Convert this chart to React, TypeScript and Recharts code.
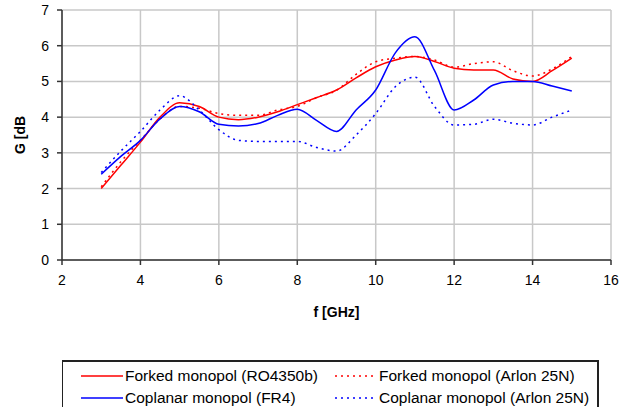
import React from "react";
import { CartesianGrid, Line, LineChart, XAxis, YAxis } from "recharts";

// frequency points [GHz]
const freq = [3, 3.5, 4, 4.5, 5, 5.5, 6, 6.5, 7, 7.5, 8, 8.5, 9, 9.5, 10, 10.5, 11, 11.5, 12, 12.5, 13, 13.5, 14, 14.5, 15];

// gain [dB]
const forkedRO = [2.0, 2.65, 3.3, 4.0, 4.4, 4.3, 4.0, 3.93, 4.0, 4.15, 4.35, 4.55, 4.76, 5.1, 5.41, 5.6, 5.7, 5.56, 5.37, 5.32, 5.32, 5.07, 5.0, 5.3, 5.65];
const forkedArlon = [2.05, 2.75, 3.35, 3.95, 4.3, 4.25, 4.1, 4.05, 4.05, 4.2, 4.3, 4.55, 4.75, 5.2, 5.55, 5.65, 5.7, 5.6, 5.4, 5.5, 5.55, 5.3, 5.15, 5.35, 5.7];
const coplanarFR4 = [2.4, 2.9, 3.35, 3.95, 4.3, 4.15, 3.8, 3.75, 3.82, 4.05, 4.22, 3.9, 3.6, 4.2, 4.76, 5.8, 6.25, 5.3, 4.2, 4.48, 4.9, 5.0, 5.0, 4.87, 4.73];
const coplanarArlon = [2.45, 3.05, 3.6, 4.2, 4.6, 4.2, 3.65, 3.35, 3.32, 3.32, 3.32, 3.15, 3.05, 3.5, 4.1, 4.85, 5.12, 4.3, 3.78, 3.8, 3.94, 3.83, 3.78, 4.0, 4.2];

const xTicks = [2, 4, 6, 8, 10, 12, 14, 16];
const yTicks = [0, 1, 2, 3, 4, 5, 6, 7];

const data = freq.map((f, i) => ({
  f,
  forkedRO: forkedRO[i],
  forkedArlon: forkedArlon[i],
  coplanarFR4: coplanarFR4[i],
  coplanarArlon: coplanarArlon[i],
}));

const series = [
  { key: "forkedRO", name: "Forked monopol (RO4350b)", color: "#ff0000", dash: undefined },
  { key: "forkedArlon", name: "Forked monopol (Arlon 25N)", color: "#ff0000", dash: "2 4" },
  { key: "coplanarFR4", name: "Coplanar monopol (FR4)", color: "#0000ff", dash: undefined },
  { key: "coplanarArlon", name: "Coplanar monopol (Arlon 25N)", color: "#0000ff", dash: "2 4" },
];

const font = "'Liberation Sans', Arial, sans-serif";

const YLabel = ({ viewBox }: any) => {
  const cy = viewBox.y + viewBox.height / 2;
  return (
    <text
      x={20}
      y={cy}
      transform={`rotate(-90 20 ${cy})`}
      textAnchor="middle"
      dominantBaseline="central"
      fill="#000"
      fontSize={14}
      fontWeight="bold"
      fontFamily={font}
    >
      G [dB
    </text>
  );
};

// legend drawn as a plain box below the chart, like the Excel one
const LegendBox = () => (
  <div
    style={{
      position: "absolute",
      left: 62,
      top: 360,
      width: 537,
      height: 60,
      borderTop: "2px solid #222",
      borderLeft: "1px solid #222",
      borderRight: "2px solid #222",
      background: "#fff",
      fontFamily: font,
      fontSize: 15.5,
      color: "#000",
      display: "grid",
      gridTemplateColumns: "254px 280px",
      gridAutoRows: "22px",
      paddingTop: 3,
      boxSizing: "border-box",
    }}
  >
    {series.map((s) => (
      <div key={s.key} style={{ display: "flex", alignItems: "center", whiteSpace: "nowrap" }}>
        <svg width={62} height={10} style={{ flex: "none" }}>
          <line x1={18} x2={60} y1={5} y2={5} stroke={s.color} strokeWidth={1.5} strokeDasharray={s.dash} />
        </svg>
        <span>{s.name}</span>
      </div>
    ))}
  </div>
);

export default function App() {
  return (
    <div style={{ position: "absolute", left: 0, top: 0, width: 626, height: 407, background: "#fff", overflow: "hidden" }}>
      <LineChart width={626} height={407} data={data} margin={{ top: 10, right: 15, bottom: 117, left: 0 }}>
        <CartesianGrid stroke="#c8c8c8" strokeWidth={1.5} />
        <XAxis
          dataKey="f"
          type="number"
          domain={[2, 16]}
          ticks={xTicks}
          height={30}
          stroke="#333"
          strokeWidth={1.5}
          tickSize={5}
          tickMargin={10}
          tick={{ fill: "#000", fontSize: 14, fontFamily: font }}
          label={{ value: "f [GHz]", position: "insideTop", offset: 47, fill: "#000", fontSize: 14, fontWeight: "bold", fontFamily: font }}
        />
        <YAxis
          type="number"
          domain={[0, 7]}
          ticks={yTicks}
          width={62}
          stroke="#333"
          strokeWidth={1.5}
          tickSize={5}
          tickMargin={8}
          tick={{ fill: "#000", fontSize: 14, fontFamily: font }}
          label={{ position: "insideLeft", content: YLabel }}
        />
        {series.map((s) => (
          <Line
            key={s.key}
            type="monotone"
            dataKey={s.key}
            name={s.name}
            stroke={s.color}
            strokeWidth={1.5}
            strokeDasharray={s.dash}
            dot={false}
            activeDot={false}
            isAnimationActive={false}
          />
        ))}
      </LineChart>
      <LegendBox />
    </div>
  );
}
